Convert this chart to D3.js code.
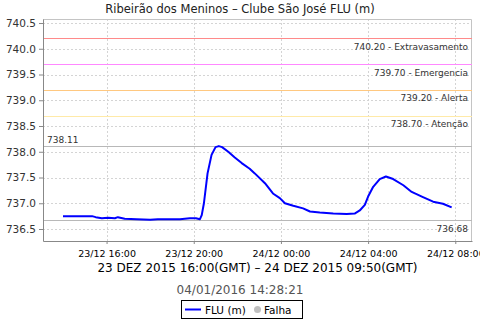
<!DOCTYPE html>
<html lang="pt">
<head>
<meta charset="UTF-8">
<script src="https://d3js.org/d3.v7.min.js"></script>
<style>
  body { margin: 0; background: #fff; }
  text { font-family: "DejaVu Sans", sans-serif; }
</style>
</head>
<body>
<div class="chart"></div>
<script>
// data (local time)
var times = ["2015-12-23 14:00", "2015-12-23 15:20", "2015-12-23 15:30", "2015-12-23 15:47", "2015-12-23 16:04",
  "2015-12-23 16:23", "2015-12-23 16:31", "2015-12-23 16:50", "2015-12-23 17:23", "2015-12-23 18:00",
  "2015-12-23 18:21", "2015-12-23 19:22", "2015-12-23 19:49", "2015-12-23 20:06", "2015-12-23 20:17",
  "2015-12-23 20:22", "2015-12-23 20:28", "2015-12-23 20:38", "2015-12-23 20:49", "2015-12-23 21:00",
  "2015-12-23 21:09", "2015-12-23 21:18", "2015-12-23 21:35", "2015-12-23 21:53", "2015-12-23 22:12",
  "2015-12-23 22:34", "2015-12-23 22:48", "2015-12-23 23:16", "2015-12-23 23:38", "2015-12-23 23:57",
  "2015-12-24 00:11", "2015-12-24 00:34", "2015-12-24 01:01", "2015-12-24 01:20", "2015-12-24 01:47",
  "2015-12-24 02:24", "2015-12-24 03:01", "2015-12-24 03:23", "2015-12-24 03:37", "2015-12-24 03:51",
  "2015-12-24 04:00", "2015-12-24 04:14", "2015-12-24 04:32", "2015-12-24 04:49", "2015-12-24 05:09",
  "2015-12-24 05:37", "2015-12-24 06:00", "2015-12-24 06:31", "2015-12-24 06:59", "2015-12-24 07:26",
  "2015-12-24 07:50"]
var levels = [736.75, 736.75, 736.73, 736.71, 736.72,
  736.71, 736.73, 736.70, 736.69, 736.68,
  736.69, 736.69, 736.71, 736.71, 736.69,
  736.77, 737.00, 737.58, 737.94, 738.09,
  738.11, 738.09, 738.00, 737.89, 737.78,
  737.67, 737.58, 737.39, 737.19, 737.10,
  737.00, 736.95, 736.90, 736.84, 736.82,
  736.80, 736.79, 736.80, 736.86, 736.97,
  737.13, 737.32, 737.47, 737.52, 737.47,
  737.35, 737.22, 737.12, 737.03, 736.99,
  736.92]

var yTicks = [736.5, 737.0, 737.5, 738.0, 738.5, 739.0, 739.5, 740.0, 740.5]
var thresholdValues = [740.20, 739.70, 739.20, 738.70]
var thresholdNames = ["Extravasamento", "Emergencia", "Alerta", "Atenção"]
var thresholdColors = ["#ff8a8a", "#ff88ff", "#ffc880", "#ffeaa8"]
var maxValue = 738.11
var minValue = 736.68

var title = "Ribeirão dos Meninos – Clube São José FLU (m)"
var periodLabel = "23 DEZ 2015 16:00(GMT) – 24 DEZ 2015 09:50(GMT)"
var stampLabel = "04/01/2016 14:28:21"

// layout
var W = 480, H = 320
var margin = { top: 19, right: 8, bottom: 79, left: 43 }
var width = W - margin.left - margin.right
var height = H - margin.top - margin.bottom

var parse = d3.timeParse("%Y-%m-%d %H:%M")
var data = times.map(function (t, i) { return { t: parse(t), v: levels[i] } })

var svgRoot = d3.select(".chart").append("svg")
  .attr("width", W)
  .attr("height", H)
var svg = svgRoot.append("g")
  .attr("transform", "translate(" + margin.left + "," + margin.top + ")")

var x = d3.scaleTime()
  .domain([parse("2015-12-23 13:05"), parse("2015-12-24 08:46")])
  .range([0, width])
var y = d3.scaleLinear()
  .domain([736.267, 740.578])
  .range([height, 0])

var xTicks = x.ticks(d3.timeHour.every(4))

// grid
svg.append("g").selectAll("line").data(yTicks).enter().append("line")
  .attr("x1", 0).attr("x2", width)
  .attr("y1", function (d) { return Math.round(y(d)) + 0.5 })
  .attr("y2", function (d) { return Math.round(y(d)) + 0.5 })
  .attr("stroke", "#d4d4d4").attr("stroke-dasharray", "2,2")
svg.append("g").selectAll("line").data(xTicks).enter().append("line")
  .attr("y1", 0).attr("y2", height)
  .attr("x1", function (d) { return Math.round(x(d)) + 0.5 })
  .attr("x2", function (d) { return Math.round(x(d)) + 0.5 })
  .attr("stroke", "#d4d4d4").attr("stroke-dasharray", "2,2")

// plot border (top/right)
svg.append("path")
  .attr("d", "M0,0.5H" + (width - 0.5) + "V" + height)
  .attr("fill", "none").attr("stroke", "#c4c4c4")

// threshold lines
svg.append("g").selectAll("line").data(thresholdValues).enter().append("line")
  .attr("x1", 0).attr("x2", width)
  .attr("y1", function (d) { return Math.round(y(d)) + 0.5 })
  .attr("y2", function (d) { return Math.round(y(d)) + 0.5 })
  .attr("stroke", function (d, i) { return thresholdColors[i] })
  .attr("stroke-width", 1.2)
svg.append("g").selectAll("text").data(thresholdValues).enter().append("text")
  .attr("x", width - 4)
  .attr("y", function (d) { return y(d) + 11.5 })
  .attr("text-anchor", "end")
  .attr("font-size", "9px")
  .attr("fill", "#333")
  .text(function (d, i) { return d.toFixed(2) + " - " + thresholdNames[i] })

// max / min lines
svg.append("g").selectAll("line").data([maxValue, minValue]).enter().append("line")
  .attr("x1", 0).attr("x2", width)
  .attr("y1", function (d) { return Math.round(y(d)) + 0.5 })
  .attr("y2", function (d) { return Math.round(y(d)) + 0.5 })
  .attr("stroke", "#b8b8b8").attr("stroke-width", 1.2)
svg.append("text")
  .attr("x", 4).attr("y", y(maxValue) - 3.5)
  .attr("font-size", "9px").attr("fill", "#333")
  .text(maxValue.toFixed(2))
svg.append("text")
  .attr("x", width - 4).attr("y", y(minValue) + 12)
  .attr("text-anchor", "end")
  .attr("font-size", "9px").attr("fill", "#333")
  .text(minValue.toFixed(2))

// series line
var line = d3.line()
  .x(function (d) { return x(d.t) })
  .y(function (d) { return y(d.v) })
svg.append("path")
  .datum(data)
  .attr("d", line)
  .attr("fill", "none")
  .attr("stroke", "#0000ff")
  .attr("stroke-width", 2)
  .attr("stroke-linejoin", "round")

// axes
var yAxis = svg.append("g")
  .call(d3.axisLeft(y).tickValues(yTicks).tickFormat(d3.format(".1f")).tickSize(4).tickSizeOuter(0))
yAxis.select(".domain").attr("stroke", "#888")
yAxis.selectAll(".tick line").attr("stroke", "#888")
yAxis.selectAll(".tick text").attr("font-size", "10.5px").attr("fill", "#333")
  .attr("font-family", "DejaVu Sans Condensed, DejaVu Sans, sans-serif")

var xAxis = svg.append("g")
  .attr("transform", "translate(0," + height + ")")
  .call(d3.axisBottom(x).tickValues(xTicks).tickFormat(d3.timeFormat("%d/%m %H:%M")).tickSize(3).tickSizeOuter(0))
xAxis.select(".domain").attr("stroke", "#888")
xAxis.selectAll(".tick line").attr("stroke", "#888")
xAxis.selectAll(".tick text").attr("font-size", "9.5px").attr("fill", "#000").attr("dy", "1em")

// titles
svgRoot.append("text")
  .attr("x", 240).attr("y", 13)
  .attr("text-anchor", "middle")
  .attr("font-size", "11.5px").attr("fill", "#222")
  .text(title)
svgRoot.append("text")
  .attr("x", margin.left + width / 2).attr("y", 272)
  .attr("text-anchor", "middle")
  .attr("font-size", "12px").attr("fill", "#000")
  .text(periodLabel)
svgRoot.append("text")
  .attr("x", 240).attr("y", 294)
  .attr("text-anchor", "middle")
  .attr("font-size", "12px").attr("fill", "#555")
  .text(stampLabel)

// legend
var legend = svgRoot.append("g").attr("transform", "translate(181,300)")
legend.append("rect")
  .attr("x", 0.5).attr("y", 0.5).attr("width", 121).attr("height", 18)
  .attr("fill", "#fff").attr("stroke", "#000")
legend.append("line")
  .attr("x1", 4).attr("x2", 20).attr("y1", 9.5).attr("y2", 9.5)
  .attr("stroke", "#0000ff").attr("stroke-width", 2)
legend.append("text")
  .attr("x", 24).attr("y", 13.5)
  .attr("font-size", "10.5px").attr("fill", "#000")
  .text("FLU (m)")
legend.append("circle")
  .attr("cx", 76.5).attr("cy", 9.5).attr("r", 3.5)
  .attr("fill", "#c0c0c0")
legend.append("text")
  .attr("x", 83).attr("y", 13.5)
  .attr("font-size", "10.5px").attr("fill", "#000")
  .text("Falha")
</script>
</body>
</html>
